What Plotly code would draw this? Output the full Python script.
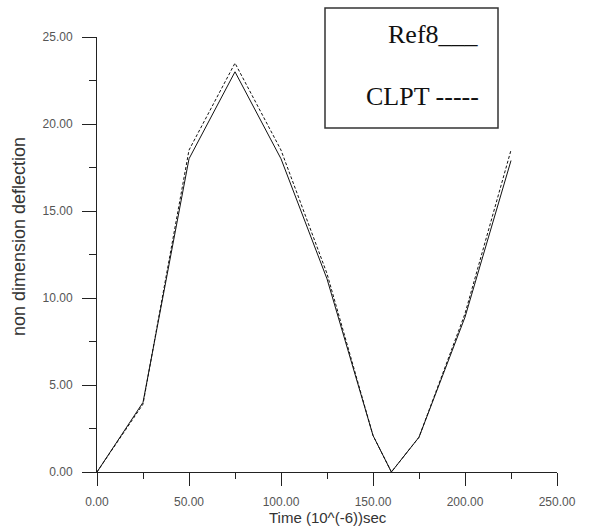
import plotly.graph_objects as go

# Data
time = [0, 25, 50, 75, 100, 125, 150, 160, 175, 200, 225]
ref8 = [0.0, 4.0, 18.0, 23.0, 18.0, 11.1, 2.1, 0.0, 2.0, 8.9, 17.9]
clpt = [0.0, 3.9, 18.5, 23.5, 18.5, 11.4, 2.1, 0.0, 2.0, 9.1, 18.5]

x_ticks = [0, 50, 100, 150, 200, 250]
x_tick_labels = ["0.00", "50.00", "100.00", "150.00", "200.00", "250.00"]
y_ticks = [0, 5, 10, 15, 20, 25]
y_tick_labels = ["0.00", "5.00", "10.00", "15.00", "20.00", "25.00"]

x_title = "Time (10^(-6))sec"
y_title = "non dimension deflection"
legend_lines = ["Ref8___", "CLPT -----"]

fig = go.Figure()
fig.add_trace(go.Scatter(x=time, y=clpt, mode="lines", name="CLPT",
                         line=dict(color="#111111", width=1, dash="3px,2px")))
fig.add_trace(go.Scatter(x=time, y=ref8, mode="lines", name="Ref8",
                         line=dict(color="#111111", width=1)))

W, H = 590, 529
L, R, T, B = 97, 33, 37, 57

tickfont = dict(family="Liberation Sans, Arial, sans-serif", size=12, color="#555555")

fig.update_layout(
    width=W, height=H,
    margin=dict(l=L, r=R, t=T, b=B),
    paper_bgcolor="white", plot_bgcolor="white",
    showlegend=False,
    xaxis=dict(
        range=[0, 250], tickvals=x_ticks, ticktext=x_tick_labels,
        showgrid=False, zeroline=False, showline=True, linecolor="#222222", linewidth=1,
        ticks="outside", ticklen=13, tickcolor="#222222", tickwidth=1,
        minor=dict(dtick=25, ticks="outside", ticklen=6, tickcolor="#222222", tickwidth=1, showgrid=False),
        tickfont=tickfont, ticklabelstandoff=6,
    ),
    yaxis=dict(
        range=[0, 25], tickvals=y_ticks, ticktext=y_tick_labels,
        showgrid=False, zeroline=False, showline=True, linecolor="#222222", linewidth=1,
        ticks="outside", ticklen=14, tickcolor="#222222", tickwidth=1,
        minor=dict(dtick=2.5, ticks="outside", ticklen=7, tickcolor="#222222", tickwidth=1, showgrid=False),
        tickfont=tickfont, ticklabelstandoff=7,
    ),
)

pw, ph = W - L - R, H - T - B

def px_x(p):
    return (p - L) / pw

def px_y(p):
    return (H - B - p) / ph

# Axis titles
fig.add_annotation(xref="paper", yref="paper", x=px_x(328), y=px_y(517),
                   xanchor="center", yanchor="middle", text=x_title, showarrow=False,
                   font=dict(family="Liberation Sans, Arial, sans-serif", size=15, color="#333333"))
fig.add_annotation(xref="paper", yref="paper", x=px_x(19), y=px_y(237),
                   xanchor="center", yanchor="middle", text=y_title, showarrow=False,
                   textangle=-90,
                   font=dict(family="Liberation Sans, Arial, sans-serif", size=18, color="#333333"))

# Legend box
fig.add_shape(type="rect", xref="paper", yref="paper",
              x0=px_x(325), x1=px_x(498), y0=px_y(128), y1=px_y(8),
              line=dict(color="#333333", width=1.5), fillcolor="rgba(0,0,0,0)")

serif = dict(family="Liberation Serif, Times New Roman, serif", size=26, color="#111111")
fig.add_annotation(xref="paper", yref="paper", x=px_x(481), y=px_y(35),
                   xanchor="right", yanchor="middle", text=legend_lines[0],
                   showarrow=False, font=serif)
fig.add_annotation(xref="paper", yref="paper", x=px_x(481), y=px_y(96),
                   xanchor="right", yanchor="middle", text=legend_lines[1],
                   showarrow=False, font=serif)

fig.write_html("out.html")
